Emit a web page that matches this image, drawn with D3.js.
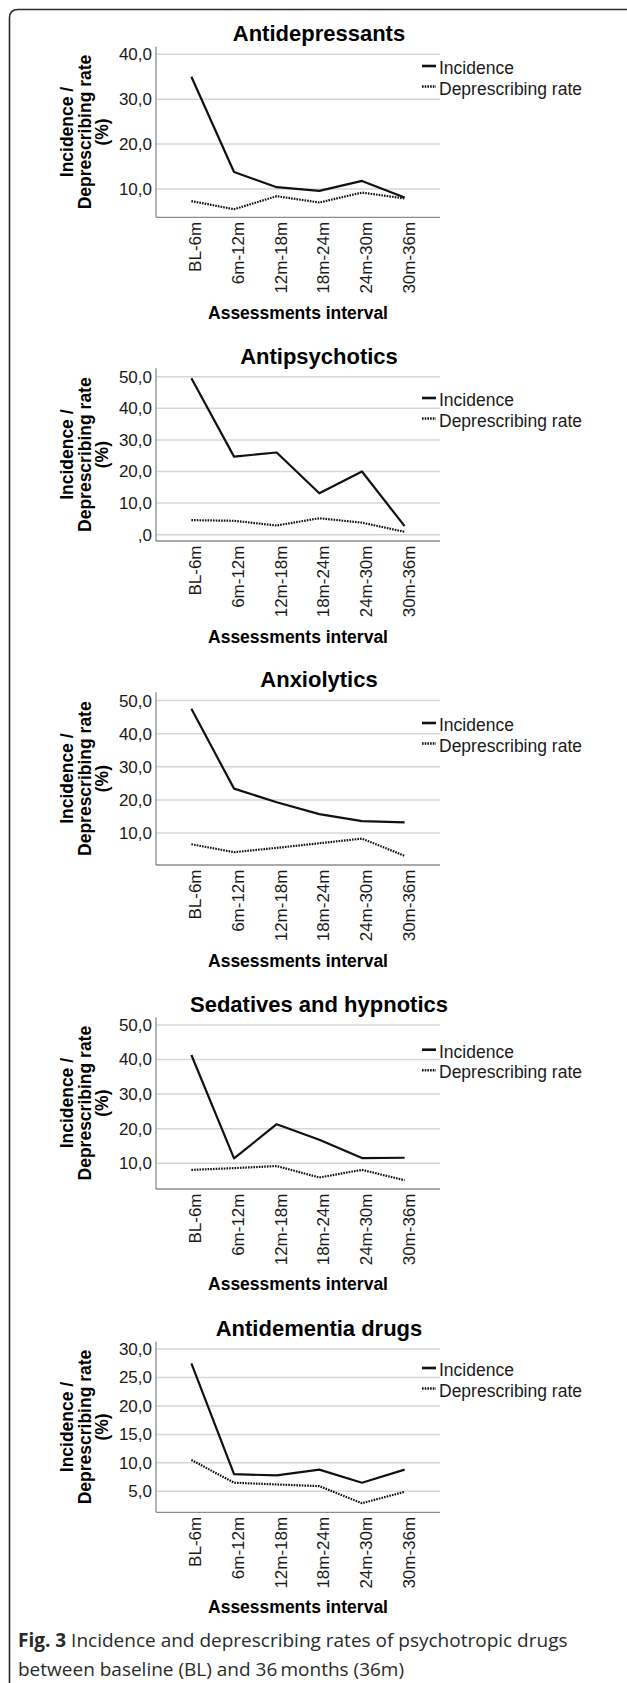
<!DOCTYPE html>
<html>
<head>
<meta charset="utf-8">
<script src="https://cdnjs.cloudflare.com/ajax/libs/d3/7.8.5/d3.min.js"></script>
<style>
  html, body { margin: 0; padding: 0; background: #fff; }
  svg { display: block; }
</style>
</head>
<body>
<svg id="chart" width="627" height="1683"></svg>
<script>
// ---- data ----
const categories = ["BL-6m", "6m-12m", "12m-18m", "18m-24m", "24m-30m", "30m-36m"];
const panelTitles = ["Antidepressants", "Antipsychotics", "Anxiolytics", "Sedatives and hypnotics", "Antidementia drugs"];
const seriesNames = ["Incidence", "Deprescribing rate"];

const incAntidepressants = [35.0, 13.8, 10.4, 9.6, 11.8, 8.1];
const depAntidepressants = [7.3, 5.5, 8.4, 7.0, 9.2, 7.9];
const incAntipsychotics = [49.5, 24.7, 26.0, 13.1, 20.0, 2.7];
const depAntipsychotics = [4.6, 4.4, 2.9, 5.2, 3.8, 0.9];
const incAnxiolytics = [47.5, 23.4, 19.3, 15.7, 13.6, 13.2];
const depAnxiolytics = [6.6, 4.2, 5.5, 6.9, 8.3, 3.1];
const incSedatives = [41.3, 11.4, 21.3, 16.8, 11.5, 11.6];
const depSedatives = [8.1, 8.6, 9.2, 5.9, 8.1, 5.1];
const incAntidementia = [27.5, 8.0, 7.8, 8.8, 6.5, 8.8];
const depAntidementia = [10.5, 6.5, 6.2, 5.9, 2.9, 4.9];

const ticksAntidepressants = [10, 20, 30, 40];
const ticksAntipsychotics = [0, 10, 20, 30, 40, 50];
const ticksAnxiolytics = [10, 20, 30, 40, 50];
const ticksSedatives = [10, 20, 30, 40, 50];
const ticksAntidementia = [5, 10, 15, 20, 25, 30];

const domainAntidepressants = [3.7, 41.7];
const domainAntipsychotics = [-2.0, 52.65];
const domainAnxiolytics = [0.33, 52.5];
const domainSedatives = [2.57, 52.2];
const domainAntidementia = [1.3, 31.3];

const xAxisTitle = "Assessments interval";
const yAxisTitleLines = ["Incidence /", "Deprescribing rate", "(%)"];
const captionBold = "Fig. 3";
const captionLine1 = " Incidence and deprescribing rates of psychotropic drugs";
const captionLine2 = "between baseline (BL) and 36\u2009months (36m)";

// ---- layout ----
const panels = [
  { title: panelTitles[0], inc: incAntidepressants, dep: depAntidepressants, ticks: ticksAntidepressants, domain: domainAntidepressants,
    titleY: 33.5, top: 46.7, bottom: 217.3, legendY: 68, xTitleY: 313 },
  { title: panelTitles[1], inc: incAntipsychotics, dep: depAntipsychotics, ticks: ticksAntipsychotics, domain: domainAntipsychotics,
    titleY: 356, top: 368.3, bottom: 541, legendY: 400, xTitleY: 636.5 },
  { title: panelTitles[2], inc: incAnxiolytics, dep: depAnxiolytics, ticks: ticksAnxiolytics, domain: domainAnxiolytics,
    titleY: 679.3, top: 692.3, bottom: 865, legendY: 725, xTitleY: 960.5 },
  { title: panelTitles[3], inc: incSedatives, dep: depSedatives, ticks: ticksSedatives, domain: domainSedatives,
    titleY: 1004, top: 1017.3, bottom: 1189, legendY: 1051.7, xTitleY: 1284 },
  { title: panelTitles[4], inc: incAntidementia, dep: depAntidementia, ticks: ticksAntidementia, domain: domainAntidementia,
    titleY: 1328.3, top: 1341.7, bottom: 1512.3, legendY: 1370, xTitleY: 1606.5 }
];

const plotLeft = 156, plotRight = 440;
const FONT = "'Liberation Sans', Arial, Helvetica, sans-serif";

const svg = d3.select("#chart");

// frame
svg.append("path")
  .attr("d", "M640,9.5 L18,9.5 Q9.5,9.5 9.5,18 L9.5,1700")
  .attr("fill", "none")
  .attr("stroke", "#2a2a2a")
  .attr("stroke-width", 1.6);

const x = d3.scalePoint().domain(categories).range([plotLeft, plotRight]).padding(0.83);

const fmt = v => {
  const s = d3.format(".1f")(v).replace(".", ",");
  return s === "0,0" ? ",0" : s;
};

panels.forEach(p => {
  const g = svg.append("g");
  const y = d3.scaleLinear().domain(p.domain).range([p.bottom, p.top]);

  // title
  g.append("text")
    .attr("x", 319).attr("y", p.titleY).attr("dy", "0.35em")
    .attr("text-anchor", "middle")
    .style("font-family", FONT).style("font-weight", "bold").style("font-size", "22px")
    .text(p.title);

  // gridlines
  g.selectAll(".grid").data(p.ticks).join("line")
    .attr("x1", plotLeft).attr("x2", plotRight)
    .attr("y1", d => y(d)).attr("y2", d => y(d))
    .attr("stroke", "#d6d6d6").attr("stroke-width", 1.5);

  // y axis
  const yAxis = g.append("g").attr("transform", `translate(${plotLeft},0)`)
    .call(d3.axisLeft(y).tickValues(p.ticks).tickFormat(fmt).tickSize(0).tickPadding(4));
  yAxis.select(".domain").remove();
  yAxis.selectAll("text")
    .style("font-family", FONT).style("font-size", "17px").attr("fill", "#1a1a1a");
  g.append("line")
    .attr("x1", plotLeft).attr("x2", plotLeft)
    .attr("y1", p.top).attr("y2", p.bottom)
    .attr("stroke", "#8c8c8c").attr("stroke-width", 1.3);

  // x axis
  const xAxis = g.append("g").attr("transform", `translate(0,${p.bottom})`)
    .call(d3.axisBottom(x).tickSize(0).tickPadding(0));
  xAxis.select(".domain").remove();
  xAxis.selectAll("text")
    .attr("transform", "rotate(-90)")
    .attr("x", -4.5).attr("y", 0).attr("dy", "0.35em")
    .attr("dx", 0)
    .attr("text-anchor", "end")
    .style("font-family", FONT).style("font-size", "17px").attr("fill", "#1a1a1a");
  xAxis.selectAll(".tick").attr("transform", d => `translate(${x(d) + 4},0)`);
  g.append("line")
    .attr("x1", plotLeft).attr("x2", plotRight)
    .attr("y1", p.bottom).attr("y2", p.bottom)
    .attr("stroke", "#8c8c8c").attr("stroke-width", 1.3);

  // y axis title
  const cy = (p.top + p.bottom) / 2;
  const yTitleX = [67, 85, 102];
  yAxisTitleLines.forEach((t, i) => {
    g.append("text")
      .attr("transform", `translate(${yTitleX[i]},${cy}) rotate(-90)`)
      .attr("dy", "0.35em")
      .attr("text-anchor", "middle")
      .style("font-family", FONT).style("font-weight", "bold").style("font-size", "17.5px")
      .text(t);
  });

  // x axis title
  g.append("text")
    .attr("x", 298).attr("y", p.xTitleY).attr("dy", "0.35em")
    .attr("text-anchor", "middle")
    .style("font-family", FONT).style("font-weight", "bold").style("font-size", "17.5px")
    .text(xAxisTitle);

  // lines
  const line = d3.line().x((d, i) => x(categories[i])).y(d => y(d));
  g.append("path").datum(p.dep)
    .attr("d", line).attr("fill", "none")
    .attr("stroke", "#111").attr("stroke-width", 2.2)
    .attr("stroke-dasharray", "1.6,1.1");
  g.append("path").datum(p.inc)
    .attr("d", line).attr("fill", "none")
    .attr("stroke", "#111").attr("stroke-width", 2.2)
    .attr("stroke-linejoin", "round");

  // legend
  seriesNames.forEach((name, i) => {
    const ly = p.legendY + i * 20.5;
    g.append("line")
      .attr("x1", 422).attr("x2", 436)
      .attr("y1", ly - 2).attr("y2", ly - 2)
      .attr("stroke", "#111").attr("stroke-width", 2.6)
      .attr("stroke-dasharray", i === 0 ? null : "1.6,1.1");
    g.append("text")
      .attr("x", 439).attr("y", ly).attr("dy", "0.35em")
      .style("font-family", FONT).style("font-size", "17.5px").attr("fill", "#1a1a1a")
      .text(name);
  });
});

// caption
const CAP = "'Open Sans', 'Noto Sans', sans-serif";
const cap1 = svg.append("text")
  .attr("x", 18).attr("y", 1646.5)
  .style("font-family", CAP).style("font-size", "19px").attr("fill", "#2a2a2a");
cap1.append("tspan").style("font-weight", "bold").text(captionBold);
cap1.append("tspan").text(captionLine1);
svg.append("text")
  .attr("x", 18).attr("y", 1676)
  .style("font-family", CAP).style("font-size", "19px").attr("fill", "#2a2a2a")
  .text(captionLine2);
</script>
</body>
</html>
